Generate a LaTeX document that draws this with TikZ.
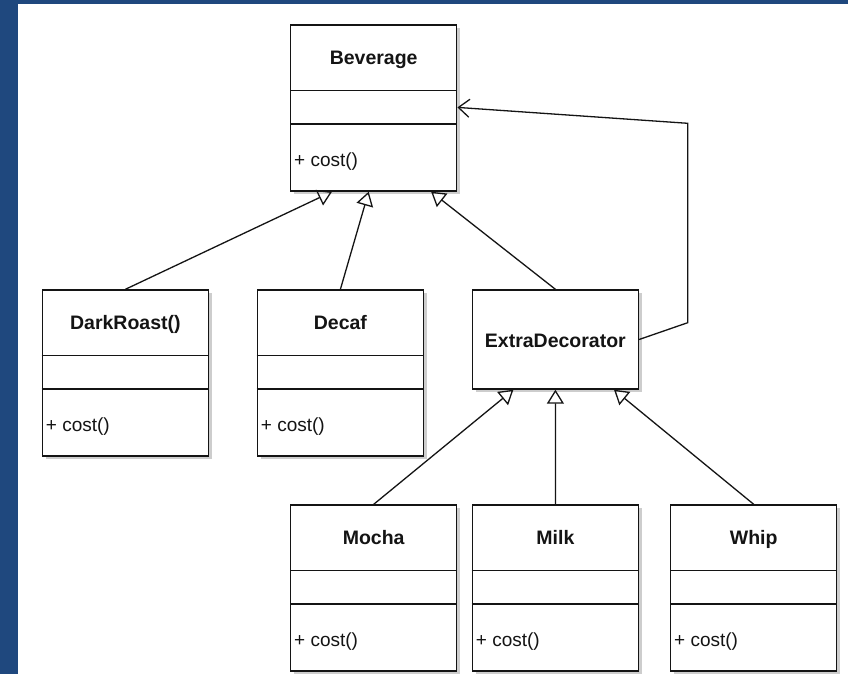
\documentclass[tikz,border=0pt]{standalone}
\usepackage{fontspec}
\setmainfont{Liberation Sans}
\usetikzlibrary{arrows.meta,calc}

\definecolor{frameblue}{RGB}{31,72,126}
\definecolor{linec}{RGB}{20,20,20}
\definecolor{shadowc}{RGB}{205,205,205}

\tikzset{
  classbox/.style={draw=linec, line width=1.4pt, fill=white, inner sep=0pt,
    minimum width=166pt, anchor=north west},
  divider/.style={draw=linec, line width=1.3pt},
  classtitle/.style={font=\bfseries\fontsize{19.5}{22}\selectfont, text=linec,
    inner sep=0pt, anchor=base},
  member/.style={font=\fontsize{19}{22}\selectfont, text=linec, inner sep=0pt,
    anchor=base west},
  generalization/.style={draw=linec, line width=1.3pt,
    -{Triangle[open, length=14pt, width=17pt, line width=1.3pt]}},
  association/.style={draw=linec, line width=1.3pt, line join=miter,
    -{Straight Barb[length=11pt, width=18pt, line width=1.3pt]}},
}

% class with name, attribute and operation compartments
\newcommand{\umlclass}[4]{%
  \fill[shadowc] (#2+4,#3+4) rectangle ++(166,166);
  \node[classbox, minimum height=166pt] (#1) at (#2,#3) {};
  \draw[divider] ([yshift=-66.4pt]#1.north west) -- ([yshift=-66.4pt]#1.north east);
  \draw[divider] ([yshift=-99.7pt]#1.north west) -- ([yshift=-99.7pt]#1.north east);
  \node[classtitle] (#1-name) at ([yshift=-40.4pt]#1.north) {#4};
  \node[member] (#1-op) at ([xshift=4pt,yshift=25pt]#1.south west) {+ cost()};
}

\begin{document}
\begin{tikzpicture}[x=1pt, y=-1pt]
  \useasboundingbox (0,0) rectangle (848,674);
  \fill[white] (0,0) rectangle (848,674);
  \fill[frameblue] (0,0) rectangle (18,674);
  \fill[frameblue] (0,0) rectangle (848,4);

  % classes
  \umlclass{bev}{290}{24.3}{Beverage}
  \umlclass{dark}{41.7}{289.3}{DarkRoast()}
  \umlclass{decaf}{256.7}{289.3}{Decaf}
  \umlclass{mocha}{290}{504.3}{Mocha}
  \umlclass{milk}{471.7}{504.3}{Milk}
  \umlclass{whip}{670}{504.3}{Whip}

  % abstract decorator: single compartment
  \fill[shadowc] (475.7,293.3) rectangle ++(166,99);
  \node[classbox, minimum height=99pt] (ed) at (471.7,289.3) {};
  \node[classtitle] (ed-name) at ([yshift=-7.5pt]ed.center) {ExtraDecorator};

  % inheritance from Beverage
  \draw[generalization] (dark.north) -- ($(bev.south west)!0.251!(bev.south east)$);
  \draw[generalization] (decaf.north) -- ($(bev.south west)!0.47!(bev.south east)$);
  \draw[generalization] (ed.north) -- ($(bev.south west)!0.843!(bev.south east)$);

  % inheritance from ExtraDecorator
  \draw[generalization] (mocha.north) -- ($(ed.south west)!0.249!(ed.south east)$);
  \draw[generalization] (milk.north) -- ($(ed.south west)!0.5!(ed.south east)$);
  \draw[generalization] (whip.north) -- ($(ed.south west)!0.85!(ed.south east)$);

  % decorator wraps a Beverage
  \coordinate (k1) at (687.7,322.7);
  \coordinate (k2) at (687.7,123.3);
  \draw[association] (ed.east) -- (k1) -- (k2) -- ([yshift=-83.1pt]bev.north east);
\end{tikzpicture}
\end{document}
